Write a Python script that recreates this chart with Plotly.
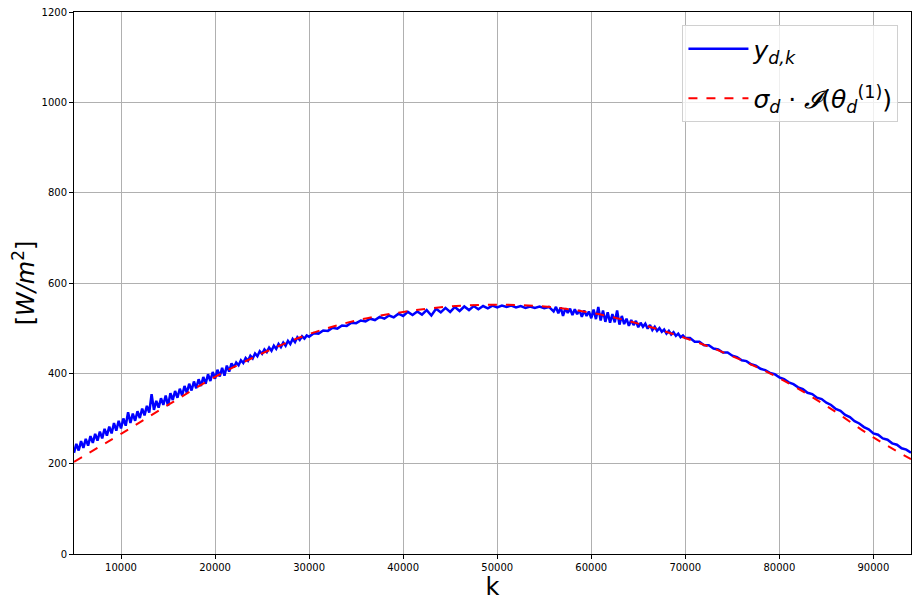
"""Measured irradiance against the scaled clear-sky model."""

import plotly.graph_objects as go

# sample index k for the measured series (denser where the signal is noisy)
k_meas = (
    list(range(5000, 30000, 250))
    + list(range(30000, 56000, 500))
    + list(range(56000, 70000, 250))
    + list(range(70000, 94001, 500))
)

y_meas = [
    # 5000 - 29750
    224, 244, 229, 250, 235, 255, 240, 261, 246, 266,
    251, 271, 256, 277, 262, 282, 267, 290, 273, 295,
    278, 300, 284, 314, 290, 311, 295, 316, 301, 322,
    307, 328, 313, 354, 319, 339, 324, 345, 330, 351,
    328, 356, 341, 361, 346, 366, 351, 372, 357, 377,
    362, 382, 367, 387, 372, 392, 377, 398, 383, 403,
    388, 408, 393, 412, 395, 417, 404, 422, 413, 424,
    418, 429, 423, 434, 428, 439, 433, 444, 438, 449,
    443, 453, 447, 457, 450, 461, 454, 465, 458, 468,
    461, 472, 465, 476, 469, 480, 474, 482, 477, 484,
    # 30000 - 55500
    481, 489, 488, 495, 494, 501, 499, 506, 505, 512,
    511, 517, 515, 521, 518, 525, 521, 528, 524, 532,
    527, 536, 529, 537, 530, 540, 528, 543, 535, 545,
    536, 547, 538, 548, 540, 549, 542, 549, 544, 550,
    546, 550, 547, 550, 546, 549, 545, 548, 545, 548,
    544, 547,
    # 56000 - 69750
    537, 547, 533, 546, 527, 544, 534, 543, 529, 542,
    531, 540, 525, 539, 527, 537, 522, 541, 520, 547,
    517, 539, 514, 535, 512, 531, 513, 539, 508, 527,
    509, 521, 505, 518, 507, 516, 502, 512, 503, 510,
    499, 507, 496, 503, 494, 500, 492, 497, 488, 494,
    486, 491, 483, 488, 480, 484,
    # 70000 - 94000
    478, 478, 470, 470, 462, 462, 455, 453, 446, 446,
    439, 436, 429, 427, 420, 417, 410, 407, 401, 398,
    391, 387, 380, 376, 369, 365, 357, 354, 346, 343,
    335, 330, 321, 317, 308, 303, 294, 289, 281, 276,
    267, 264, 256, 253, 245, 242, 234, 231, 224,
]

# scaled clear-sky model sigma_d * I(theta_d^(1))
k_model = [5000, 10000, 15000, 20000, 25000, 30000, 35000, 40000, 45000, 50000,
           55000, 60000, 65000, 70000, 75000, 80000, 85000, 90000, 94000]
y_model = [204, 266, 330, 392, 444, 487, 517, 536, 548, 552,
           548, 534, 510, 478, 438, 389, 328, 258, 210]

fig = go.Figure()
fig.add_trace(
    go.Scatter(
        x=k_meas,
        y=y_meas,
        mode="lines",
        name="<i>y</i><sub><i>d,k</i></sub>",
        legendgroup="meas",
        line=dict(color="#0000ff", width=2.5),
    )
)
fig.add_trace(
    go.Scatter(
        x=k_model,
        y=y_model,
        mode="lines",
        name="<i>σ</i><sub><i>d</i></sub> · <i>𝓘</i>(<i>θ</i><sub><i>d</i></sub><sup>(1)</sup>)",
        legendgroup="model",
        line=dict(color="#ff0000", width=2, dash="dash", shape="spline"),
    )
)

axis_style = dict(
    showline=True,
    linecolor="black",
    linewidth=1,
    mirror=True,
    showgrid=True,
    gridcolor="#b0b0b0",
    gridwidth=1,
    ticks="outside",
    ticklen=4,
    tickcolor="black",
    tickfont=dict(size=10, color="black"),
    zeroline=False,
    automargin=False,
    ticklabeloverflow="allow",
)

# the page body adds an 8px offset, so the figure is a little smaller than the window
fig.update_layout(
    width=914,
    height=599,
    margin=dict(l=66, r=11, t=4, b=53),
    paper_bgcolor="white",
    plot_bgcolor="white",
    font=dict(family="DejaVu Sans", color="black"),
    showlegend=True,
    legend=dict(
        x=0.985,
        y=0.976,
        xanchor="right",
        yanchor="top",
        bgcolor="rgba(255,255,255,0.8)",
        bordercolor="#d0d0d0",
        borderwidth=1,
        font=dict(size=25),
        tracegroupgap=14,
        itemwidth=60,
    ),
)
fig.update_xaxes(
    range=[5000, 94000],
    tick0=0,
    dtick=10000,
    tickformat="d",
    title=dict(text="k", font=dict(size=24), standoff=2),
    **axis_style,
)
fig.update_yaxes(
    range=[0, 1200],
    tick0=0,
    dtick=200,
    title=dict(text="[<i>W/m</i><sup>2</sup>]", font=dict(size=24), standoff=12),
    **axis_style,
)

fig.write_html("out.html")
